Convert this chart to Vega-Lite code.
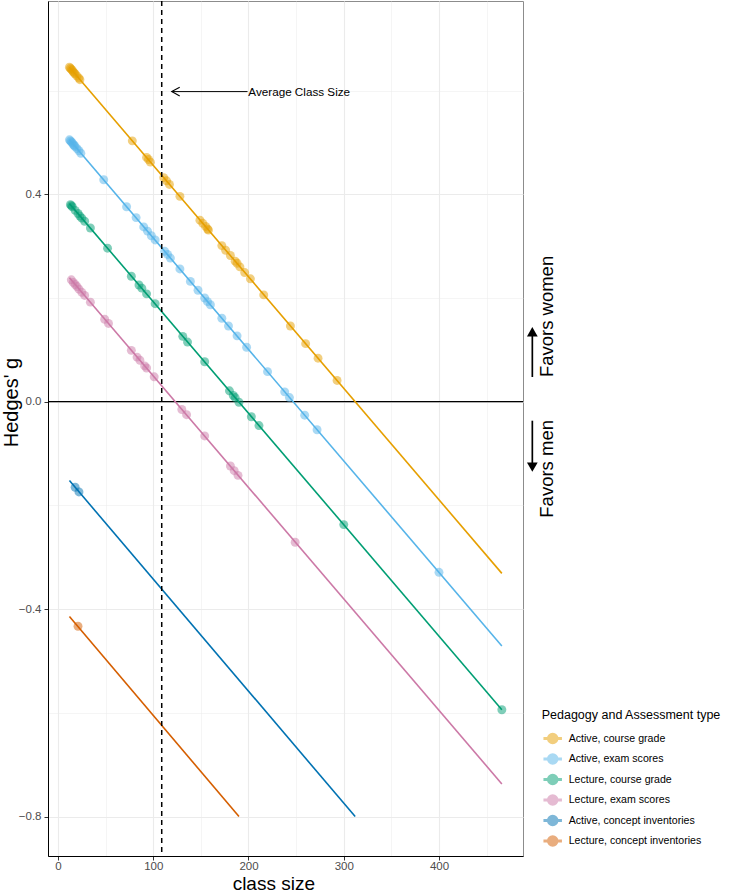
{
  "$schema": "https://vega.github.io/schema/vega-lite/v6.json",
  "width": 475,
  "height": 855,
  "autosize": {"type": "none"},
  "padding": {"left": 48, "top": 1, "right": 206, "bottom": 37},
  "config": {
    "font": "Liberation Sans",
    "view": {"stroke": "#8c8c8c", "strokeWidth": 1},
    "axis": {
      "gridColor": "#EBEBEB",
      "domainColor": "#000000",
      "domainWidth": 1,
      "tickColor": "#333333",
      "tickSize": 4,
      "tickWidth": 1,
      "labelColor": "#4D4D4D",
      "labelFontSize": 11.5,
      "labelPadding": 3,
      "titleFontSize": 20,
      "titleFontWeight": "normal",
      "titleColor": "#000000"
    }
  },
  "datasets": {
    "pts": [
      {"grp": "Active, course grade", "n": 12, "g": 0.645},
      {"grp": "Active, course grade", "n": 13, "g": 0.643},
      {"grp": "Active, course grade", "n": 14, "g": 0.641},
      {"grp": "Active, course grade", "n": 15, "g": 0.639},
      {"grp": "Active, course grade", "n": 16, "g": 0.636},
      {"grp": "Active, course grade", "n": 17, "g": 0.634},
      {"grp": "Active, course grade", "n": 18, "g": 0.632},
      {"grp": "Active, course grade", "n": 20, "g": 0.628},
      {"grp": "Active, course grade", "n": 22, "g": 0.624},
      {"grp": "Active, course grade", "n": 23, "g": 0.621},
      {"grp": "Active, course grade", "n": 78, "g": 0.503},
      {"grp": "Active, course grade", "n": 93, "g": 0.471},
      {"grp": "Active, course grade", "n": 95, "g": 0.467},
      {"grp": "Active, course grade", "n": 97, "g": 0.462},
      {"grp": "Active, course grade", "n": 111, "g": 0.432},
      {"grp": "Active, course grade", "n": 114, "g": 0.426},
      {"grp": "Active, course grade", "n": 117, "g": 0.419},
      {"grp": "Active, course grade", "n": 128, "g": 0.396},
      {"grp": "Active, course grade", "n": 149, "g": 0.350},
      {"grp": "Active, course grade", "n": 152, "g": 0.344},
      {"grp": "Active, course grade", "n": 155, "g": 0.338},
      {"grp": "Active, course grade", "n": 157, "g": 0.333},
      {"grp": "Active, course grade", "n": 158, "g": 0.331},
      {"grp": "Active, course grade", "n": 172, "g": 0.301},
      {"grp": "Active, course grade", "n": 176, "g": 0.292},
      {"grp": "Active, course grade", "n": 181, "g": 0.282},
      {"grp": "Active, course grade", "n": 186, "g": 0.271},
      {"grp": "Active, course grade", "n": 188, "g": 0.267},
      {"grp": "Active, course grade", "n": 191, "g": 0.260},
      {"grp": "Active, course grade", "n": 196, "g": 0.249},
      {"grp": "Active, course grade", "n": 202, "g": 0.237},
      {"grp": "Active, course grade", "n": 216, "g": 0.206},
      {"grp": "Active, course grade", "n": 244, "g": 0.146},
      {"grp": "Active, course grade", "n": 260, "g": 0.112},
      {"grp": "Active, course grade", "n": 273, "g": 0.084},
      {"grp": "Active, course grade", "n": 293, "g": 0.041},
      {"grp": "Active, exam scores", "n": 12, "g": 0.505},
      {"grp": "Active, exam scores", "n": 13, "g": 0.503},
      {"grp": "Active, exam scores", "n": 14, "g": 0.501},
      {"grp": "Active, exam scores", "n": 15, "g": 0.499},
      {"grp": "Active, exam scores", "n": 16, "g": 0.496},
      {"grp": "Active, exam scores", "n": 17, "g": 0.494},
      {"grp": "Active, exam scores", "n": 18, "g": 0.492},
      {"grp": "Active, exam scores", "n": 20, "g": 0.488},
      {"grp": "Active, exam scores", "n": 22, "g": 0.484},
      {"grp": "Active, exam scores", "n": 24, "g": 0.479},
      {"grp": "Active, exam scores", "n": 48, "g": 0.428},
      {"grp": "Active, exam scores", "n": 72, "g": 0.376},
      {"grp": "Active, exam scores", "n": 82, "g": 0.355},
      {"grp": "Active, exam scores", "n": 90, "g": 0.337},
      {"grp": "Active, exam scores", "n": 94, "g": 0.329},
      {"grp": "Active, exam scores", "n": 98, "g": 0.320},
      {"grp": "Active, exam scores", "n": 102, "g": 0.312},
      {"grp": "Active, exam scores", "n": 112, "g": 0.290},
      {"grp": "Active, exam scores", "n": 115, "g": 0.284},
      {"grp": "Active, exam scores", "n": 118, "g": 0.277},
      {"grp": "Active, exam scores", "n": 128, "g": 0.256},
      {"grp": "Active, exam scores", "n": 139, "g": 0.232},
      {"grp": "Active, exam scores", "n": 147, "g": 0.215},
      {"grp": "Active, exam scores", "n": 154, "g": 0.200},
      {"grp": "Active, exam scores", "n": 157, "g": 0.193},
      {"grp": "Active, exam scores", "n": 160, "g": 0.187},
      {"grp": "Active, exam scores", "n": 172, "g": 0.161},
      {"grp": "Active, exam scores", "n": 179, "g": 0.146},
      {"grp": "Active, exam scores", "n": 188, "g": 0.127},
      {"grp": "Active, exam scores", "n": 198, "g": 0.105},
      {"grp": "Active, exam scores", "n": 220, "g": 0.058},
      {"grp": "Active, exam scores", "n": 238, "g": 0.019},
      {"grp": "Active, exam scores", "n": 243, "g": 0.008},
      {"grp": "Active, exam scores", "n": 259, "g": -0.026},
      {"grp": "Active, exam scores", "n": 272, "g": -0.054},
      {"grp": "Active, exam scores", "n": 400, "g": -0.329},
      {"grp": "Lecture, course grade", "n": 13, "g": 0.380},
      {"grp": "Lecture, course grade", "n": 14, "g": 0.378},
      {"grp": "Lecture, course grade", "n": 15, "g": 0.376},
      {"grp": "Lecture, course grade", "n": 18, "g": 0.369},
      {"grp": "Lecture, course grade", "n": 21, "g": 0.363},
      {"grp": "Lecture, course grade", "n": 23, "g": 0.358},
      {"grp": "Lecture, course grade", "n": 25, "g": 0.354},
      {"grp": "Lecture, course grade", "n": 28, "g": 0.348},
      {"grp": "Lecture, course grade", "n": 34, "g": 0.335},
      {"grp": "Lecture, course grade", "n": 52, "g": 0.296},
      {"grp": "Lecture, course grade", "n": 77, "g": 0.242},
      {"grp": "Lecture, course grade", "n": 85, "g": 0.225},
      {"grp": "Lecture, course grade", "n": 88, "g": 0.219},
      {"grp": "Lecture, course grade", "n": 93, "g": 0.208},
      {"grp": "Lecture, course grade", "n": 102, "g": 0.189},
      {"grp": "Lecture, course grade", "n": 131, "g": 0.126},
      {"grp": "Lecture, course grade", "n": 136, "g": 0.115},
      {"grp": "Lecture, course grade", "n": 154, "g": 0.077},
      {"grp": "Lecture, course grade", "n": 180, "g": 0.021},
      {"grp": "Lecture, course grade", "n": 184, "g": 0.012},
      {"grp": "Lecture, course grade", "n": 186, "g": 0.008},
      {"grp": "Lecture, course grade", "n": 190, "g": -0.001},
      {"grp": "Lecture, course grade", "n": 203, "g": -0.029},
      {"grp": "Lecture, course grade", "n": 211, "g": -0.046},
      {"grp": "Lecture, course grade", "n": 300, "g": -0.237},
      {"grp": "Lecture, course grade", "n": 466, "g": -0.594},
      {"grp": "Lecture, exam scores", "n": 14, "g": 0.235},
      {"grp": "Lecture, exam scores", "n": 16, "g": 0.230},
      {"grp": "Lecture, exam scores", "n": 18, "g": 0.226},
      {"grp": "Lecture, exam scores", "n": 20, "g": 0.222},
      {"grp": "Lecture, exam scores", "n": 22, "g": 0.217},
      {"grp": "Lecture, exam scores", "n": 25, "g": 0.211},
      {"grp": "Lecture, exam scores", "n": 28, "g": 0.205},
      {"grp": "Lecture, exam scores", "n": 34, "g": 0.192},
      {"grp": "Lecture, exam scores", "n": 49, "g": 0.159},
      {"grp": "Lecture, exam scores", "n": 53, "g": 0.151},
      {"grp": "Lecture, exam scores", "n": 77, "g": 0.099},
      {"grp": "Lecture, exam scores", "n": 83, "g": 0.086},
      {"grp": "Lecture, exam scores", "n": 86, "g": 0.080},
      {"grp": "Lecture, exam scores", "n": 91, "g": 0.069},
      {"grp": "Lecture, exam scores", "n": 93, "g": 0.065},
      {"grp": "Lecture, exam scores", "n": 101, "g": 0.048},
      {"grp": "Lecture, exam scores", "n": 130, "g": -0.015},
      {"grp": "Lecture, exam scores", "n": 135, "g": -0.025},
      {"grp": "Lecture, exam scores", "n": 154, "g": -0.066},
      {"grp": "Lecture, exam scores", "n": 181, "g": -0.124},
      {"grp": "Lecture, exam scores", "n": 185, "g": -0.133},
      {"grp": "Lecture, exam scores", "n": 189, "g": -0.142},
      {"grp": "Lecture, exam scores", "n": 249, "g": -0.271},
      {"grp": "Active, concept inventories", "n": 18, "g": -0.165},
      {"grp": "Active, concept inventories", "n": 22, "g": -0.174},
      {"grp": "Lecture, concept inventories", "n": 21, "g": -0.433}
    ],
    "fits": [
      {"grp": "Active, course grade", "n": 12, "g": 0.645},
      {"grp": "Active, course grade", "n": 466, "g": -0.331},
      {"grp": "Active, exam scores", "n": 12, "g": 0.505},
      {"grp": "Active, exam scores", "n": 466, "g": -0.471},
      {"grp": "Lecture, course grade", "n": 12, "g": 0.382},
      {"grp": "Lecture, course grade", "n": 466, "g": -0.594},
      {"grp": "Lecture, exam scores", "n": 12, "g": 0.239},
      {"grp": "Lecture, exam scores", "n": 466, "g": -0.737},
      {"grp": "Active, concept inventories", "n": 12, "g": -0.152},
      {"grp": "Active, concept inventories", "n": 312, "g": -0.8},
      {"grp": "Lecture, concept inventories", "n": 12, "g": -0.414},
      {"grp": "Lecture, concept inventories", "n": 190, "g": -0.8}
    ]
  },
  "layer": [
    {
      "data": {"values": [{"g": 0}]},
      "mark": {"type": "rule", "color": "#000000", "strokeWidth": 1.2},
      "encoding": {
        "y": {
          "field": "g", "type": "quantitative",
          "scale": {"domain": [-0.876, 0.7727], "nice": false, "zero": false},
          "axis": {
            "title": "Hedges' g",
            "values": [-0.8, -0.6, -0.4, -0.2, 0, 0.2, 0.4, 0.6],
            "format": ".1f",
            "labelExpr": "round(datum.value*10) % 4 === 0 ? datum.label : ''",
            "gridWidth": {"condition": {"test": "round(datum.value*10) % 4 === 0", "value": 1.1}, "value": 0.5},
            "tickOpacity": {"condition": {"test": "round(datum.value*10) % 4 === 0", "value": 1}, "value": 0},
            "titleX": -30.5,
            "titleY": 401,
            "titleAngle": 270,
            "titleAlign": "center",
            "titleBaseline": "alphabetic"
          }
        }
      }
    },
    {
      "data": {"name": "pts"},
      "mark": {"type": "point", "filled": true, "opacity": 0.5, "size": 80, "strokeWidth": 0},
      "encoding": {
        "x": {
          "field": "n", "type": "quantitative",
          "scale": {"domain": [-10.5, 488.2], "nice": false, "zero": false},
          "axis": {
            "title": "class size",
            "values": [0, 50, 100, 150, 200, 250, 300, 350, 400, 450],
            "labelExpr": "datum.value % 100 === 0 ? datum.label : ''",
            "labelPadding": 0.5,
            "gridWidth": {"condition": {"test": "datum.value % 100 === 0", "value": 1.1}, "value": 0.5},
            "tickOpacity": {"condition": {"test": "datum.value % 100 === 0", "value": 1}, "value": 0},
            "titleX": 225.3,
            "titleY": 33,
            "titleFontSize": 19,
            "titleAlign": "center",
            "titleBaseline": "alphabetic"
          }
        },
        "y": {"field": "g", "type": "quantitative", "scale": {"domain": [-0.876, 0.7727], "nice": false, "zero": false}},
        "color": {
          "field": "grp", "type": "nominal",
          "scale": {
            "domain": ["Active, course grade", "Active, exam scores", "Lecture, course grade", "Lecture, exam scores", "Active, concept inventories", "Lecture, concept inventories"],
            "range": ["#E69F00", "#56B4E9", "#009E73", "#CC79A7", "#0072B2", "#D55E00"]
          },
          "legend": {
            "orient": "none",
            "legendX": 493.7,
            "legendY": 708,
            "padding": 0,
            "title": "Pedagogy and Assessment type",
            "titleFontSize": 12.5,
            "titleFontWeight": "normal",
            "titleColor": "#000000",
            "titlePadding": 11,
            "labelFontSize": 10.6,
            "labelColor": "#000000",
            "labelOffset": 10,
            "rowPadding": 4.5,
            "symbolOffset": 5,
            "symbolSize": 100,
            "symbolType": "M-1.7,-0.15L1.7,-0.15L1.7,0.15L-1.7,0.15Z M1,0A1,1 0 1,1 -1,0A1,1 0 1,1 1,0Z",
            "encode": {
              "symbols": {
                "update": {
                  "fill": {"scale": "color", "field": "value"},
                  "fillOpacity": {"value": 0.6},
                  "opacity": {"value": 1},
                  "strokeWidth": {"value": 0}
                }
              }
            }
          }
        }
      }
    },
    {
      "data": {"name": "fits"},
      "mark": {"type": "line", "strokeWidth": 1.6},
      "encoding": {
        "x": {"field": "n", "type": "quantitative", "scale": {"domain": [-10.5, 488.2], "nice": false, "zero": false}},
        "y": {"field": "g", "type": "quantitative", "scale": {"domain": [-0.876, 0.7727], "nice": false, "zero": false}},
        "color": {"field": "grp", "type": "nominal"},
        "detail": {"field": "grp"}
      }
    },
    {
      "data": {"values": [{"n": 108.9}]},
      "mark": {"type": "rule", "color": "#000000", "strokeWidth": 1.5, "strokeDash": [5, 4]},
      "encoding": {
        "x": {"field": "n", "type": "quantitative", "scale": {"domain": [-10.5, 488.2], "nice": false, "zero": false}}
      }
    },
    {
      "data": {"values": [{"n": 119.4, "n2": 199, "g": 0.598}]},
      "mark": {"type": "rule", "color": "#000000", "strokeWidth": 1},
      "encoding": {
        "x": {"field": "n", "type": "quantitative", "scale": {"domain": [-10.5, 488.2], "nice": false, "zero": false}},
        "x2": {"field": "n2"},
        "y": {"field": "g", "type": "quantitative", "scale": {"domain": [-0.876, 0.7727], "nice": false, "zero": false}}
      }
    },
    {
      "data": {"values": [{"n": 119.4, "g": 0.598}]},
      "mark": {"type": "point", "shape": "M2,-1.1L0,0L2,1.1", "filled": false, "size": 64, "color": "#000000", "strokeWidth": 1.1, "opacity": 1},
      "encoding": {
        "x": {"field": "n", "type": "quantitative", "scale": {"domain": [-10.5, 488.2], "nice": false, "zero": false}},
        "y": {"field": "g", "type": "quantitative", "scale": {"domain": [-0.876, 0.7727], "nice": false, "zero": false}}
      }
    },
    {
      "data": {"values": [{"n": 199.8, "g": 0.598, "label": "Average Class Size"}]},
      "mark": {"type": "text", "align": "left", "baseline": "middle", "fontSize": 11.7, "color": "#000000"},
      "encoding": {
        "x": {"field": "n", "type": "quantitative", "scale": {"domain": [-10.5, 488.2], "nice": false, "zero": false}},
        "y": {"field": "g", "type": "quantitative", "scale": {"domain": [-0.876, 0.7727], "nice": false, "zero": false}},
        "text": {"field": "label"}
      }
    },
    {
      "data": {"values": [{"n": 513.4, "g": 0.1644, "label": "Favors women"}, {"n": 513.4, "g": -0.1295, "label": "Favors men"}]},
      "mark": {"type": "text", "align": "center", "baseline": "middle", "angle": 270, "fontSize": 18.5, "color": "#000000"},
      "encoding": {
        "x": {"field": "n", "type": "quantitative", "scale": {"domain": [-10.5, 488.2], "nice": false, "zero": false}},
        "y": {"field": "g", "type": "quantitative", "scale": {"domain": [-0.876, 0.7727], "nice": false, "zero": false}},
        "text": {"field": "label"}
      }
    },
    {
      "data": {"values": [{"n": 498.0, "g": 0.0476, "g2": 0.135}, {"n": 498.0, "g": -0.0366, "g2": -0.126}]},
      "mark": {"type": "rule", "color": "#000000", "strokeWidth": 1.7},
      "encoding": {
        "x": {"field": "n", "type": "quantitative", "scale": {"domain": [-10.5, 488.2], "nice": false, "zero": false}},
        "y": {"field": "g", "type": "quantitative", "scale": {"domain": [-0.876, 0.7727], "nice": false, "zero": false}},
        "y2": {"field": "g2"}
      }
    },
    {
      "data": {"values": [{"n": 498.0, "g": 0.1349, "dir": "up"}, {"n": 498.0, "g": -0.1263, "dir": "down"}]},
      "mark": {"type": "point", "filled": true, "size": 115, "color": "#000000", "opacity": 1},
      "encoding": {
        "x": {"field": "n", "type": "quantitative", "scale": {"domain": [-10.5, 488.2], "nice": false, "zero": false}},
        "y": {"field": "g", "type": "quantitative", "scale": {"domain": [-0.876, 0.7727], "nice": false, "zero": false}},
        "shape": {"field": "dir", "type": "nominal", "scale": {"domain": ["up", "down"], "range": ["triangle-up", "triangle-down"]}, "legend": null}
      }
    }
  ]
}
